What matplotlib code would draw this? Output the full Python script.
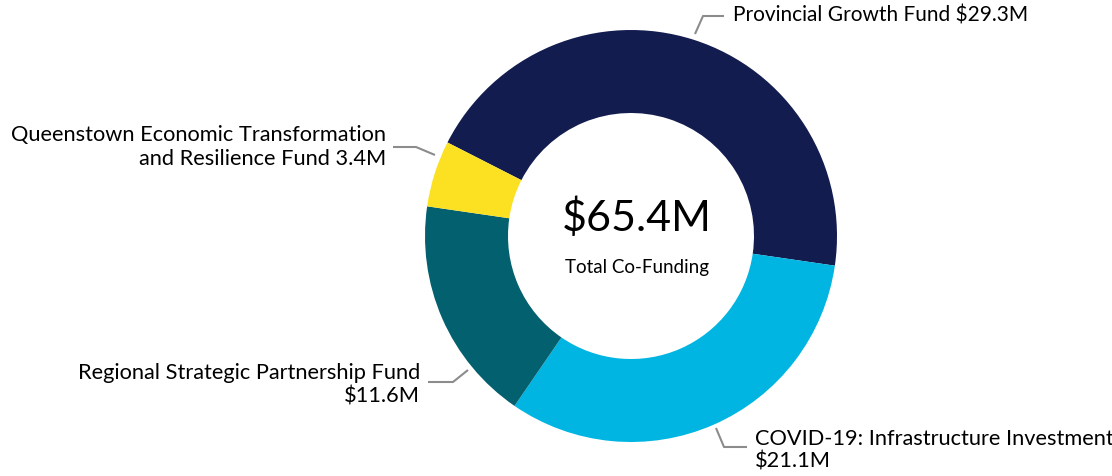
import matplotlib
matplotlib.use('Agg')
from matplotlib import pyplot as plt

# data
funds = ['Provincial Growth Fund', 'COVID-19: Infrastructure Investment',
         'Regional Strategic Partnership Fund',
         'Queenstown Economic Transformation and Resilience Fund']
amounts = [29.3, 21.1, 11.6, 3.4]
colors = ['#131C4F', '#00B5E1', '#03606F', '#FBE122']
labels = ['Provincial Growth Fund $29.3M',
          'COVID-19: Infrastructure Investment\n$21.1M',
          'Regional Strategic Partnership Fund\n$11.6M',
          'Queenstown Economic Transformation\nand Resilience Fund 3.4M']
total_text = '$65.4M'
sub_text = 'Total Co-Funding'

plt.rcParams['font.family'] = ['Lato', 'DejaVu Sans']

W, H = 1112, 476
fig = plt.figure(figsize=(W / 100, H / 100), dpi=100)
ax = fig.add_axes([0, 0, 1, 1])

cx, cy, r = 631, H - 236, 206
ax.pie(amounts, colors=colors, startangle=153, counterclock=False,
       center=(cx, cy), radius=r, frame=True,
       wedgeprops=dict(width=83, linewidth=0))
ax.set_xlim(0, W)
ax.set_ylim(0, H)
ax.set_aspect('equal')
ax.axis('off')

# centre text
ax.text(cx + 6, H - 218, total_text, fontsize=31, ha='center', va='center', color='black')
ax.text(cx + 6, H - 268, sub_text, fontsize=13.5, ha='center', va='center', color='black')

lc = '#8C8C8C'
def leader(pts):
    xs = [p[0] for p in pts]
    ys = [H - p[1] for p in pts]
    ax.plot(xs, ys, color=lc, lw=1.5, solid_capstyle='butt')

fs = 15.7
# Provincial
leader([(695, 34), (703, 16), (724, 16)])
ax.text(733, H - 16, labels[0], fontsize=15, ha='left', va='center')
# COVID
leader([(716, 428), (724, 447), (747, 447)])
ax.text(755, H - 450, labels[1], fontsize=fs, ha='left', va='center', linespacing=1.15)
# Regional
leader([(468, 370), (453, 382), (428, 382)])
ax.text(420, H - 385, labels[2], fontsize=fs, ha='right', va='center', linespacing=1.2,
        multialignment='right')
# Queenstown
leader([(435, 155), (416, 147), (393, 147)])
ax.text(386, H - 147, labels[3], fontsize=fs, ha='right', va='center', linespacing=1.28,
        multialignment='right')

fig.savefig('out.png', dpi=100)
